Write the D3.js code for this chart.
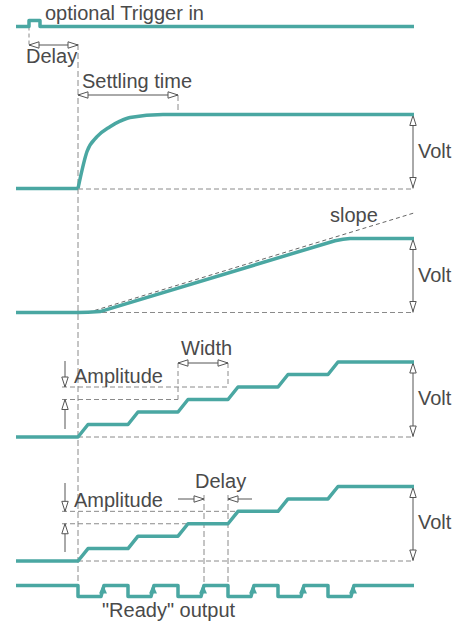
<!DOCTYPE html>
<html>
<head>
<meta charset="utf-8">
<script src="https://cdn.jsdelivr.net/npm/d3@7"></script>
<style>
  html, body { margin: 0; padding: 0; background: #fff; }
  svg { display: block; }
  text { font-family: "Liberation Sans", Arial, sans-serif; font-size: 20px; fill: #4a4a4a; }
</style>
</head>
<body>
<script>
// ---------- DATA (time in arbitrary units, values normalised) ----------
const triggerT = [-6.2, -4.9, -4.9, -3.8, -3.8, 33.6];
const triggerV = [0, 0, 1, 1, 0, 0];

const settleFlatT = [-6.2, 0];
const settleFlatV = [0, 0];
const settleT = [0, 0.9, 1.9, 3.2, 4.2, 5.2, 8.5, 33.6];
const settleV = [0, 0.5, 0.7, 0.835, 0.91, 0.96, 1, 1];

const rampT = [-6.2, 0, 1, 2.2, 25.7, 26.5, 27.2, 33.6];
const rampV = [0, 0, 0.004, 0.012, 0.97, 0.99, 1, 1];
const slopeT = [1.0, 33.6];
const slopeV = [0, 1.345];

const stepT = [-6.2, 0, 1, 5, 6, 10, 11, 15, 16, 20, 21, 25, 26, 33.6];
const stepV = [0, 0, 1, 1, 2, 2, 3, 3, 4, 4, 5, 5, 6, 6];

const readyT = [-6.2, 0, 0, 2.3, 2.6, 5, 5, 7.3, 7.6, 10, 10, 12.3, 12.6, 15, 15, 17.3, 17.6, 20, 20, 22.3, 22.6, 25, 25, 27.3, 27.6, 33.6];
const readyV = [1, 1, 0, 0, 1, 1, 0, 0, 1, 1, 0, 0, 1, 1, 0, 0, 1, 1, 0, 0, 1, 1, 0, 0, 1, 1];
const readyArrowT = [2.5, 7.5, 12.5, 17.5, 22.5, 27.5];

const labels = {
  trigger: "optional Trigger in",
  delay: "Delay",
  settling: "Settling time",
  volt: "Volt",
  slope: "slope",
  width: "Width",
  amplitude: "Amplitude",
  ready: "\"Ready\" output"
};

// ---------- LAYOUT ----------
const W = 459, H = 622;
const teal = "#4aa7a2";
const dimColor = "#555";
const dashColor = "#8a8a8a";

const svg = d3.select("body").append("svg").attr("width", W).attr("height", H);

const x = d3.scaleLinear().domain([-6.2, 33.6]).range([16, 414]);
const yTrig = d3.scaleLinear().domain([0, 1]).range([26.5, 20.5]);
const ySettle = d3.scaleLinear().domain([0, 1]).range([188.5, 114.5]);
const yRamp = d3.scaleLinear().domain([0, 1]).range([312.5, 238.5]);
const yStep4 = d3.scaleLinear().domain([0, 6]).range([437, 362]);
const yStep5 = d3.scaleLinear().domain([0, 6]).range([561, 486.5]);
const yReady = d3.scaleLinear().domain([0, 1]).range([596.5, 585.5]);

const zip = (a, b) => a.map((t, i) => [t, b[i]]);

const gDash = svg.append("g");
const gDim = svg.append("g");
const gSig = svg.append("g");
const gText = svg.append("g");

function dashed(x1, y1, x2, y2, pattern) {
  gDash.append("line").attr("x1", x1).attr("y1", y1).attr("x2", x2).attr("y2", y2)
    .attr("stroke", dashColor).attr("stroke-width", 1)
    .attr("stroke-dasharray", pattern || "5,3");
}

function signal(ts, vs, yScale, curve) {
  const line = d3.line().x(d => x(d[0])).y(d => yScale(d[1])).curve(curve || d3.curveLinear);
  gSig.append("path").attr("d", line(zip(ts, vs)))
    .attr("fill", "none").attr("stroke", teal).attr("stroke-width", 3.5)
    .attr("stroke-linejoin", "round").attr("stroke-linecap", "butt");
}

function head(tx, ty, dir) {
  const L = 10, hw = 3.2;
  let pts;
  if (dir === "left") pts = [[tx, ty], [tx + L, ty - hw], [tx + L, ty + hw]];
  if (dir === "right") pts = [[tx, ty], [tx - L, ty - hw], [tx - L, ty + hw]];
  if (dir === "up") pts = [[tx, ty], [tx - hw, ty + L], [tx + hw, ty + L]];
  if (dir === "down") pts = [[tx, ty], [tx - hw, ty - L], [tx + hw, ty - L]];
  gDim.append("path").attr("d", "M" + pts.map(p => p.join(",")).join("L") + "Z")
    .attr("fill", "#fff").attr("stroke", dimColor).attr("stroke-width", 1);
}

function dimLine(x1, y1, x2, y2) {
  gDim.append("line").attr("x1", x1).attr("y1", y1).attr("x2", x2).attr("y2", y2)
    .attr("stroke", dimColor).attr("stroke-width", 1);
}

function label(txt, tx, ty) {
  gText.append("text").attr("x", tx).attr("y", ty).text(txt);
}

// ---------- Trigger ----------
signal(triggerT, triggerV, yTrig);
label(labels.trigger, 45, 19.5);
dashed(x(-4.9), yTrig(0), x(-4.9), 47, "4,3");
dimLine(x(-4.9), 45, x(0), 45);
head(x(-4.9), 45, "left");
head(x(0), 45, "right");
label(labels.delay, 26, 63);

// main vertical reference at t=0
dashed(x(0), 44, x(0), yReady(1) + 2, "6,3");

// ---------- Settling ----------
dimLine(x(0), 95, x(10), 95);
head(x(0), 95, "left");
head(x(10), 95, "right");
dashed(x(10), 95, x(10), ySettle(1), "6,3");
label(labels.settling, 82, 88);
signal(settleFlatT, settleFlatV, ySettle);
signal(settleT, settleV, ySettle, d3.curveMonotoneX);
dashed(x(0), ySettle(0) + 0.5, x(33.6), ySettle(0) + 0.5);
dimLine(413, ySettle(1), 413, ySettle(0));
head(413, ySettle(1) + 1, "up");
head(413, ySettle(0) - 1, "down");
label(labels.volt, 418, (ySettle(0) + ySettle(1)) / 2 + 6);

// ---------- Ramp ----------
gDash.append("path").attr("d", d3.line().x(d => x(d[0])).y(d => yRamp(d[1]))(zip(slopeT, slopeV)))
  .attr("stroke", "#666").attr("stroke-width", 1).attr("stroke-dasharray", "4,3").attr("fill", "none");
signal(rampT, rampV, yRamp);
dashed(x(0), yRamp(0), x(33.6), yRamp(0));
dimLine(413, yRamp(1), 413, yRamp(0));
head(413, yRamp(1) + 1, "up");
head(413, yRamp(0) - 1, "down");
label(labels.volt, 418, (yRamp(0) + yRamp(1)) / 2 + 6);
label(labels.slope, 330, 222);

// ---------- Steps (panel 4) ----------
dashed(62, yStep4(4), x(15), yStep4(4));
dashed(62, yStep4(3), x(10), yStep4(3));
dashed(x(10), 363, x(10), yStep4(3), "5,3");
dashed(x(15), 363, x(15), yStep4(4), "5,3");
dimLine(x(10), 363, x(15), 363);
head(x(10), 363, "left");
head(x(15), 363, "right");
label(labels.width, 181, 355);
dimLine(65, 361, 65, yStep4(4));
head(65, yStep4(4), "down");
dimLine(65, yStep4(3), 65, 429);
head(65, yStep4(3), "up");
label(labels.amplitude, 74, 383);
signal(stepT, stepV, yStep4);
dashed(x(0), yStep4(0), x(33.6), yStep4(0));
dimLine(413, yStep4(6), 413, yStep4(0));
head(413, yStep4(6) + 1, "up");
head(413, yStep4(0) - 1, "down");
label(labels.volt, 418, (yStep4(0) + yStep4(6)) / 2 + 5);

// ---------- Steps (panel 5) ----------
dashed(62, yStep5(4), x(16), yStep5(4));
dashed(62, yStep5(3), x(11), yStep5(3));
dimLine(65, 483, 65, yStep5(4));
head(65, yStep5(4), "down");
dimLine(65, yStep5(3), 65, 552);
head(65, yStep5(3), "up");
label(labels.amplitude, 74, 507);
dashed(x(12.6), 495, x(12.6), yReady(1) + 2, "6,3");
dashed(x(15), 495, x(15), yReady(1) + 2, "6,3");
dimLine(178, 499, x(12.6), 499);
head(x(12.6), 499, "right");
dimLine(252, 499, x(15), 499);
head(x(15), 499, "left");
label(labels.delay, 195, 488);
signal(stepT, stepV, yStep5);
dashed(x(0), yStep5(0), x(33.6), yStep5(0));
dimLine(413, yStep5(6), 413, yStep5(0));
head(413, yStep5(6) + 1, "up");
head(413, yStep5(0) - 1, "down");
label(labels.volt, 418, (yStep5(0) + yStep5(6)) / 2 + 5);

// ---------- Ready output ----------
signal(readyT, readyV, yReady);
readyArrowT.forEach(t => {
  const tx = x(t), ty = yReady(1) - 1;
  gSig.append("path")
    .attr("d", `M${tx},${ty}L${tx - 4},${ty + 9}L${tx + 4},${ty + 9}Z`)
    .attr("fill", teal);
});
label(labels.ready, 102, 616.5);
</script>
</body>
</html>
